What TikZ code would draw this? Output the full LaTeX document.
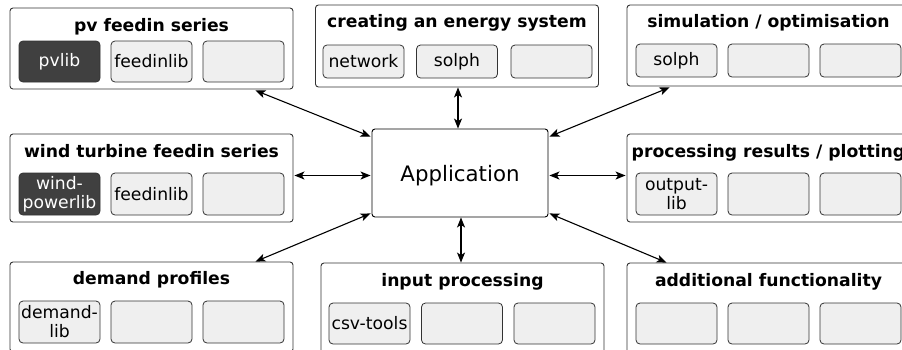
\documentclass[tikz,border=0pt]{standalone}
\usepackage{fontspec}
\setmainfont{DejaVu Sans}
\usetikzlibrary{arrows.meta,calc}
\definecolor{libfill}{HTML}{EFEFEF}
\definecolor{darkfill}{HTML}{404040}
\definecolor{edge}{HTML}{333333}
\begin{document}
\begin{tikzpicture}[x=1pt,y=-1pt,
  outer/.style={draw=edge, fill=white, rounded corners=3pt, line width=0.9pt, inner sep=0pt, minimum width=283pt},
  grouptitle/.style={font=\bfseries\fontsize{17.2}{20}\selectfont, inner sep=0pt, anchor=base},
  libbox/.style={draw=edge, fill=libfill, rounded corners=4pt, line width=0.8pt, inner sep=0pt, minimum width=81pt, align=center, font=\fontsize{17.2}{19}\selectfont},
  darklib/.style={libbox, fill=darkfill, text=white},
  appbox/.style={draw=black, fill=white, rounded corners=3pt, line width=0.9pt, minimum width=176pt, minimum height=88pt, inner sep=0pt, text depth=0pt, font=\fontsize{21.3}{25}\selectfont},
  link/.style={line width=1.1pt, {Stealth[length=10pt,width=8pt,inset=2.5pt]}-{Stealth[length=10pt,width=8pt,inset=2.5pt]}}
]
\useasboundingbox (0,0) rectangle (902,349);
\clip (0,0) rectangle (902,349);

% ---------- top row ----------
\node[outer, minimum height=81pt] (pv) at (151.5,48.5) {};
\node[grouptitle] (pvt) at (151.5,31.5) {pv feedin series};
\node[darklib, minimum height=41pt] (pv1) at (59.5,61.5) {pvlib};
\node[libbox, minimum height=41pt] (pv2) at (151.5,61.5) {feedinlib};
\node[libbox, minimum height=41pt] (pv3) at (243.5,61.5) {};

\node[outer, minimum height=82pt] (ces) at (457,46) {};
\node[grouptitle] (cest) at (457,27.5) {creating an energy system};
\node[libbox, minimum height=33pt] (ces1) at (363.5,61.5) {network};
\node[libbox, minimum height=33pt] (ces2) at (457,61.5) {solph};
\node[libbox, minimum height=33pt] (ces3) at (551.5,61.5) {};

\node[outer, minimum height=81pt] (sim) at (768.5,45.5) {};
\node[grouptitle] (simt) at (768.5,27.5) {simulation / optimisation};
\node[libbox, minimum height=33pt] (sim1) at (676.5,60.5) {solph};
\node[libbox, minimum height=33pt] (sim2) at (768.5,60.5) {};
\node[libbox, minimum height=33pt] (sim3) at (860.5,60.5) {};

% ---------- middle row ----------
\node[outer, minimum height=88pt] (wind) at (151.5,178) {};
\node[grouptitle] (windt) at (151.5,157.3) {wind turbine feedin series};
\node[darklib, minimum height=42pt] (wind1) at (59.5,194) {wind-\\powerlib};
\node[libbox, minimum height=42pt] (wind2) at (151.5,194) {feedinlib};
\node[libbox, minimum height=42pt] (wind3) at (243.5,194) {};

\node[appbox] (app) at (460,173) {Application};

\node[outer, minimum height=88pt] (proc) at (768.5,178) {};
\node[grouptitle] (proct) at (768.5,157) {processing results / plotting};
\node[libbox, minimum height=42pt] (proc1) at (676.5,194) {output-\\lib};
\node[libbox, minimum height=42pt] (proc2) at (768.5,194) {};
\node[libbox, minimum height=42pt] (proc3) at (860.5,194) {};

% ---------- bottom row ----------
\node[outer, minimum height=90pt] (dem) at (151.5,307) {};
\node[grouptitle] (demt) at (151.5,284.5) {demand profiles};
\node[libbox, minimum height=42pt] (dem1) at (59.5,322) {demand-\\lib};
\node[libbox, minimum height=42pt] (dem2) at (151.5,322) {};
\node[libbox, minimum height=42pt] (dem3) at (243.5,322) {};

\node[outer, minimum height=90pt] (inp) at (462.5,308) {};
\node[grouptitle] (inpt) at (462.5,286.3) {input processing};
\node[libbox, minimum height=41pt] (inp1) at (369.5,323.5) {csv-tools};
\node[libbox, minimum height=41pt] (inp2) at (462,323.5) {};
\node[libbox, minimum height=41pt] (inp3) at (554.5,323.5) {};

\node[outer, minimum height=90pt] (add) at (768.5,308) {};
\node[grouptitle] (addt) at (768.5,286.5) {additional functionality};
\node[libbox, minimum height=41pt] (add1) at (676.5,323.5) {};
\node[libbox, minimum height=41pt] (add2) at (768.5,323.5) {};
\node[libbox, minimum height=41pt] (add3) at (860.5,323.5) {};

% ---------- connectors ----------
\draw[link] ($(app.north west)+(-1,8)$) -- ($(pv.south east)+(-38,1)$);
\draw[link] ($(app.north)+(-2,0)$) -- ($(ces.south)+(1,0)$);
\draw[link] ($(app.north east)+(1,8)$) -- ($(sim.south west)+(43,1)$);
\draw[link] ($(app.west)+(-1,2.5)$) -- ($(wind.east)+(1,-2.5)$);
\draw[link] ($(app.east)+(1,2.5)$) -- ($(proc.west)+(-1,-2.5)$);
\draw[link] ($(app.south west)+(-1,-4)$) -- ($(dem.north east)+(-38,0)$);
\draw[link] ($(app.south)+(1,0)$) -- ($(inp.north)+(-1.5,0)$);
\draw[link] ($(app.south east)+(1,-4)$) -- ($(add.north west)+(40,0)$);
\end{tikzpicture}
\end{document}
